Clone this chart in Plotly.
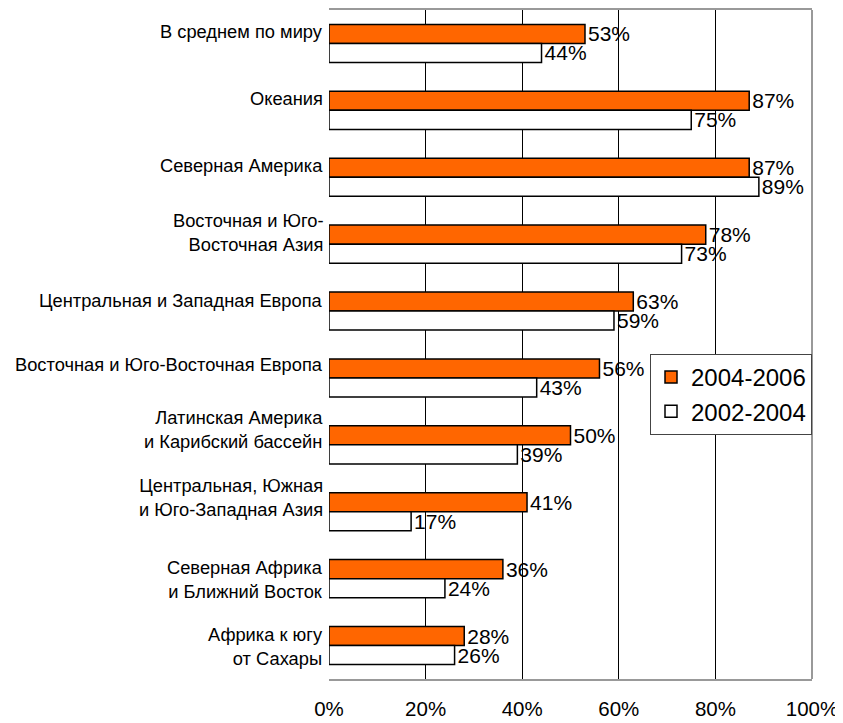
import plotly.graph_objects as go

categories = [
    "В среднем по миру",
    "Океания",
    "Северная Америка",
    "Восточная и Юго-<br>Восточная Азия",
    "Центральная и Западная Европа",
    "Восточная и Юго-Восточная Европа",
    "Латинская Америка<br>и Карибский бассейн",
    "Центральная, Южная<br>и Юго-Западная Азия",
    "Северная Африка<br>и Ближний Восток",
    "Африка к югу<br>от Сахары",
]
series_2004_2006 = [53, 87, 87, 78, 63, 56, 50, 41, 36, 28]
series_2002_2004 = [44, 75, 89, 73, 59, 43, 39, 17, 24, 26]
tick_values = [0, 20, 40, 60, 80, 100]
tick_labels = ["0%", "20%", "40%", "60%", "80%", "100%"]

# vertical nudges of category labels (layout styling only)
label_shift = [12, 12, 12, 12, 11, 13, 15, 14, -1, -1]

FONT = "Liberation Sans, Arial, sans-serif"

fig = go.Figure()
fig.add_trace(go.Bar(
    name="2004-2006", y=categories, x=series_2004_2006, orientation="h",
    marker=dict(color="#FF6600", line=dict(color="black", width=1.5)),
    text=[f"{v}%" for v in series_2004_2006], textposition="outside",
    constraintext="none",
    textfont=dict(size=21, color="black", family=FONT), cliponaxis=False,
))
fig.add_trace(go.Bar(
    name="2002-2004", y=categories, x=series_2002_2004, orientation="h",
    marker=dict(color="white", line=dict(color="black", width=1.5)),
    text=[f"{v}%" for v in series_2002_2004], textposition="outside",
    constraintext="none",
    textfont=dict(size=21, color="black", family=FONT), cliponaxis=False,
))

for cat, sh in zip(categories, label_shift):
    fig.add_annotation(
        x=0, xref="paper", y=cat, yref="y", text=cat, showarrow=False,
        xanchor="right", yanchor="middle", align="right", xshift=-4, yshift=sh,
        font=dict(size=18.3, family=FONT, color="black"),
    )

fig.update_layout(
    width=843, height=723,
    margin=dict(l=321, r=39, t=0, b=52),
    paper_bgcolor="white", plot_bgcolor="white",
    barmode="group", bargap=0.43, bargroupgap=0,
    font=dict(family=FONT, color="black"),
    legend=dict(
        x=0.6646, y=0.486, xanchor="left", yanchor="top",
        bgcolor="white", bordercolor="#444444", borderwidth=1,
        font=dict(size=24, family=FONT), itemwidth=30,
    ),
    showlegend=True,
)
fig.update_xaxes(
    range=[0, 100], tickvals=tick_values, ticktext=tick_labels,
    showgrid=True, gridcolor="black", gridwidth=1,
    showline=True, linecolor="#999999", linewidth=2, mirror=True,
    ticks="", tickfont=dict(size=20.5, family=FONT), ticklabelstandoff=10,
    zeroline=False, fixedrange=True,
)
fig.update_yaxes(
    autorange="reversed", showgrid=False, showline=False,
    showticklabels=False, ticks="", fixedrange=True,
)
fig.add_shape(type="line", xref="paper", yref="paper", x0=1, x1=1, y0=0, y1=1,
              line=dict(color="#999999", width=2))

fig.write_html("out.html")
